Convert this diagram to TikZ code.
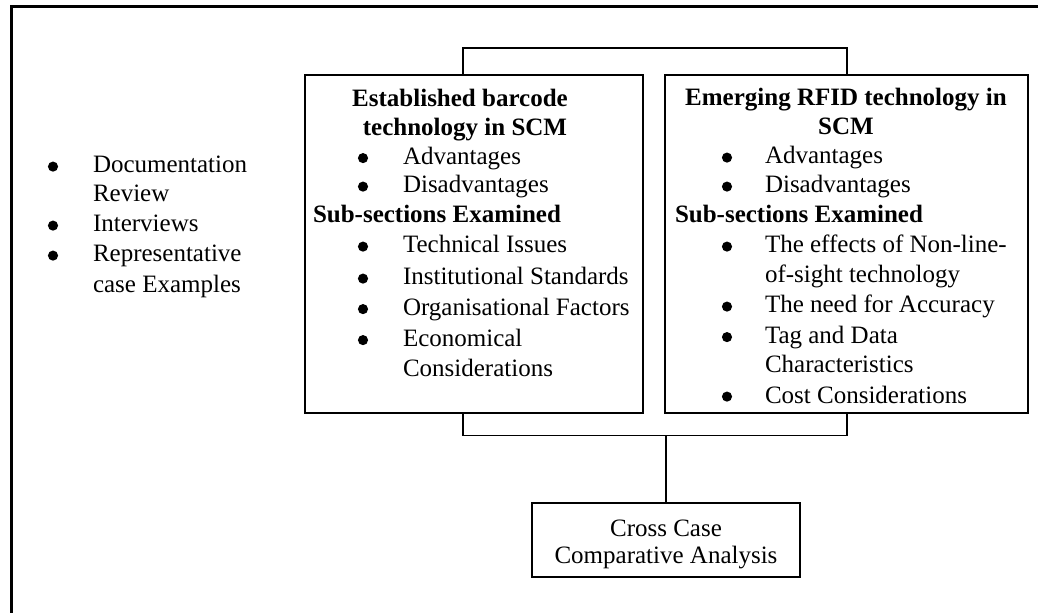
\documentclass[tikz,border=0pt]{standalone}
\usepackage{fontspec}
\setmainfont{Liberation Serif}
\begin{document}
\begin{tikzpicture}[x=0.75pt,y=-0.75pt,
  every node/.style={inner sep=0pt,outer sep=0pt,font=\fontsize{18.75pt}{22.5pt}\selectfont},
  txt/.style={anchor=base west},
  ctxt/.style={anchor=base},
  bul/.style={circle,fill,minimum size=7.6pt,yshift=4.8pt},
  hd/.style={font=\fontsize{18.75pt}{22.5pt}\selectfont\bfseries},
  boxn/.style={draw,line width=1.1pt,anchor=north west,minimum width=#1},
  conn/.style={line width=1.1pt}]
\useasboundingbox (0,0) rectangle (1040,613);
% outer frame (top and left only)
\draw[line width=2.8pt,line join=miter] (11.5,613) -- (11.5,6.5) -- (1038,6.5);

% left list
\node[bul] (b1) at (53,173) {};
\node[txt] (l1) at (93,173) {Documentation};
\node[txt] (l1b) at (93,202) {Review};
\node[bul] (b2) at (53,232) {};
\node[txt] (l2) at (93,232) {Interviews};
\node[bul] (b3) at (53,262) {};
\node[txt] (l3) at (93,262) {Representative};
\node[txt] (l3b) at (93,292) {case Examples};

% boxes
\node[boxn=253.5pt,minimum height=253.5pt] (lbox) at (305,75) {};
\node[boxn=272.25pt,minimum height=253.5pt] (rbox) at (665,75) {};
\node[boxn=201pt,minimum height=55.5pt] (cbox) at (532,503) {};

% left box text
\node[ctxt,hd] (a1) at (460,106.5) {Established barcode};
\node[ctxt,hd] (a2) at (465,136) {technology in SCM};
\node[bul] (ab1) at (363,164.5) {};
\node[txt] (a3) at (403,164.5) {Advantages};
\node[bul] (ab2) at (363,193) {};
\node[txt] (a4) at (403,193) {Disadvantages};
\node[txt,hd] (a5) at (313,223) {Sub-sections Examined};
\node[bul] (ab3) at (363,253) {};
\node[txt] (a6) at (403,253) {Technical Issues};
\node[bul] (ab4) at (363,285) {};
\node[txt] (a7) at (403,285) {Institutional Standards};
\node[bul] (ab5) at (363,315.5) {};
\node[txt] (a8) at (403,315.5) {Organisational Factors};
\node[bul] (ab6) at (363,346.5) {};
\node[txt] (a9) at (403,346.5) {Economical};
\node[txt] (a10) at (403,376.5) {Considerations};

% right box text
\node[ctxt,hd] (r1) at (846,105.5) {Emerging RFID technology in};
\node[ctxt,hd] (r2) at (846,135) {SCM};
\node[bul] (rb1) at (727,164) {};
\node[txt] (r3) at (765,164) {Advantages};
\node[bul] (rb2) at (727,193) {};
\node[txt] (r4) at (765,193) {Disadvantages};
\node[txt,hd] (r5) at (675,223) {Sub-sections Examined};
\node[bul] (rb3) at (727,253) {};
\node[txt] (r6) at (765,253) {The effects of Non-line-};
\node[txt] (r7) at (765,282.5) {of-sight technology};
\node[bul] (rb4) at (727,313) {};
\node[txt] (r8) at (765,313) {The need for Accuracy};
\node[bul] (rb5) at (727,343.5) {};
\node[txt] (r9) at (765,343.5) {Tag and Data};
\node[txt] (r10) at (765,373) {Characteristics};
\node[bul] (rb6) at (727,403) {};
\node[txt] (r11) at (765,403) {Cost Considerations};

% cross case text
\node[ctxt] (c1) at (666,536.5) {Cross Case};
\node[ctxt] (c2) at (666,563.5) {Comparative Analysis};

% connectors
\coordinate (tl) at (463,48);
\coordinate (tr) at (847,48);
\coordinate (bl) at (463,435.5);
\coordinate (br) at (847,435.5);
\draw[conn] (lbox.north -| tl) -- (tl) -- (tr) -- (rbox.north -| tr);
\draw[conn] (lbox.south -| bl) -- (bl) -- (br) -- (rbox.south -| br);
\draw[conn] (cbox.north) -- (cbox.north |- bl);
\end{tikzpicture}
\end{document}
